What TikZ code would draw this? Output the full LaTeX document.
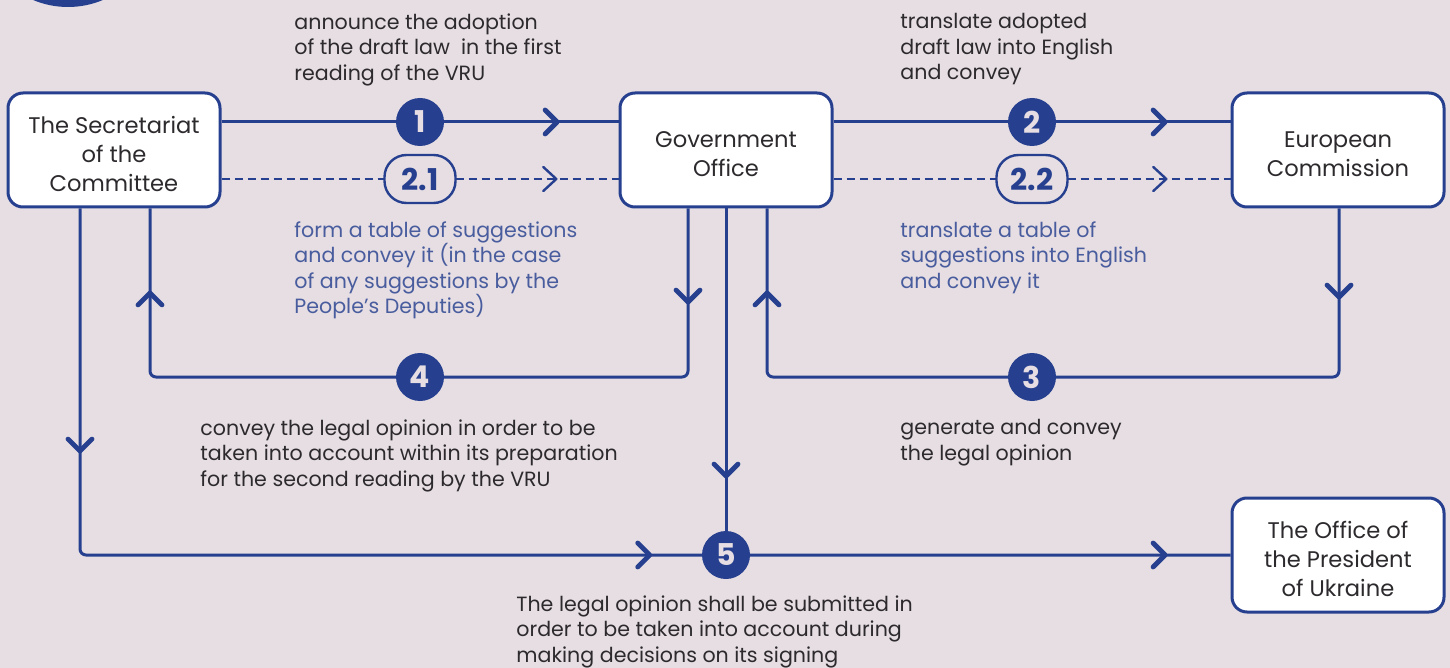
\documentclass[tikz,border=0pt]{standalone}
\usepackage{fontspec}
\setmainfont{Poppins}
\usetikzlibrary{arrows.meta, positioning, decorations.markings}

\definecolor{bgmauve}{RGB}{230,222,227}
\definecolor{flowblue}{RGB}{38,64,143}
\definecolor{notegrey}{RGB}{45,42,45}

\newcommand{\boxlift}{\rule{0pt}{12.5pt}}

\tikzset{
	box/.style={draw=flowblue, line width=1.5pt, fill=white, rounded corners=7.5pt, minimum width=106pt, minimum height=57pt, inner sep=0pt, align=center, text=notegrey, font=\fontsize{11.3}{14.5}\selectfont},
	badge/.style={circle, fill=flowblue, minimum size=24pt, inner sep=0pt, text=bgmauve, font=\fontsize{15}{15}\selectfont\bfseries},
	subbadge/.style={draw=flowblue, line width=1.2pt, fill=bgmauve, rounded corners=11pt, minimum width=35.5pt, minimum height=24pt, inner sep=0pt, text=flowblue, font=\fontsize{15}{15}\selectfont\bfseries},
	flow/.style={draw=flowblue, line width=1.5pt, rounded corners=3pt, postaction=decorate},
	dflow/.style={draw=flowblue, line width=1.2pt, dash pattern=on 4pt off 2.5pt, postaction=decorate},
	note/.style={anchor=north west, inner sep=0pt, align=left, text=notegrey, font=\fontsize{10.3}{12.8}\selectfont},
	bluenote/.style={note, text=flowblue!82!bgmauve},
	chevtip/.tip={Straight Barb[length=6pt, width=12pt, line width=2.4pt, round]},
	dchevtip/.tip={Straight Barb[length=6.5pt, width=12pt, line width=1.2pt, round]},
}

\begin{document}
\begin{tikzpicture}[x=0.5pt, y=-0.5pt]
	\fill[bgmauve] (0,0) rectangle (1450,668);
	\useasboundingbox (0,0) rectangle (1450,668);
	\begin{scope}
		\clip (0,0) rectangle (1450,668);
		\fill[flowblue] (68,-83) circle (45pt);
	\end{scope}

	\node[box] (sec) at (114,150) {\boxlift The Secretariat\\of the\\Committee};
	\node[box] (gov) at (726,150) {\boxlift Government\\Office};
	\node[box] (ec) at (1338,150) {\boxlift European\\Commission};
	\node[box] (pres) at (1338,555) {\boxlift The Office of\\the President\\of Ukraine};

	\coordinate (m1) at (420,122);
	\coordinate (m21) at (420,179);
	\coordinate (m2) at (1032,122);
	\coordinate (m22) at (1032,179);
	\coordinate (m3) at (1032,377);
	\coordinate (m4) at (420,377);
	\coordinate (m5) at (726,555);
	\coordinate (c80) at (80,0);
	\coordinate (c150) at (150,0);
	\coordinate (c688) at (688,0);
	\coordinate (c767) at (767,0);
	\coordinate (c1339) at (1339,0);

	\draw[flow, decoration={markings, mark=at position -29.5pt with {\arrow{chevtip}}}] (sec.east |- m1) -- (gov.west |- m1);
	\draw[dflow, decoration={markings, mark=at position -30.5pt with {\arrow{dchevtip}}}] (sec.east |- m21) -- (gov.west |- m21);
	\draw[flow, decoration={markings, mark=at position -31.5pt with {\arrow{chevtip}}}] (gov.east |- m2) -- (ec.west |- m2);
	\draw[dflow, decoration={markings, mark=at position -31.5pt with {\arrow{dchevtip}}}] (gov.east |- m22) -- (ec.west |- m22);

	\draw[flow, decoration={markings, mark=at position 48pt with {\arrow{chevtip}}, mark=at position -41pt with {\arrow{chevtip}}}] (gov.south -| c688) |- (m4) -| (sec.south -| c150);
	\draw[flow, decoration={markings, mark=at position 45.5pt with {\arrow{chevtip}}, mark=at position -41pt with {\arrow{chevtip}}}] (ec.south -| c1339) |- (m3) -| (gov.south -| c767);
	\draw[flow, decoration={markings, mark=at position 122.5pt with {\arrow{chevtip}}, mark=at position 458pt with {\arrow{chevtip}}, mark=at position -31.5pt with {\arrow{chevtip}}}] (sec.south -| c80) |- (m5) -- (pres.west |- m5);
	\draw[flow, decoration={markings, mark=at position 135pt with {\arrow{chevtip}}}] (gov.south) -- (m5);

	\node[badge] (b1) at (m1) {1};
	\node[subbadge] (b21) at (m21) {2.1};
	\node[badge] (b2) at (m2) {2};
	\node[subbadge] (b22) at (m22) {2.2};
	\node[badge] (b3) at (m3) {3};
	\node[badge] (b4) at (m4) {4};
	\node[badge] (b5) at (m5) {5};

	\node[note] (t1) at (294,13) {announce the adoption\\of the draft law\ \ in the first\\reading of the VRU};
	\node[note] (t2) at (900,13) {translate adopted\\draft law into English\\and convey};
	\node[bluenote] (t21) at (294,221) {form a table of suggestions\\and convey it (in the case\\of any suggestions by the\\People’s Deputies)};
	\node[bluenote] (t22) at (900,221) {translate a table of\\suggestions into English\\and convey it};
	\node[note] (t4) at (200,419) {convey the legal opinion in order to be\\taken into account within its preparation\\for the second reading by the VRU};
	\node[note] (t3) at (900,419) {generate and convey\\the legal opinion};
	\node[note] (t5) at (516,595) {The legal opinion shall be submitted in\\order to be taken into account during\\making decisions on its signing};
\end{tikzpicture}
\end{document}
